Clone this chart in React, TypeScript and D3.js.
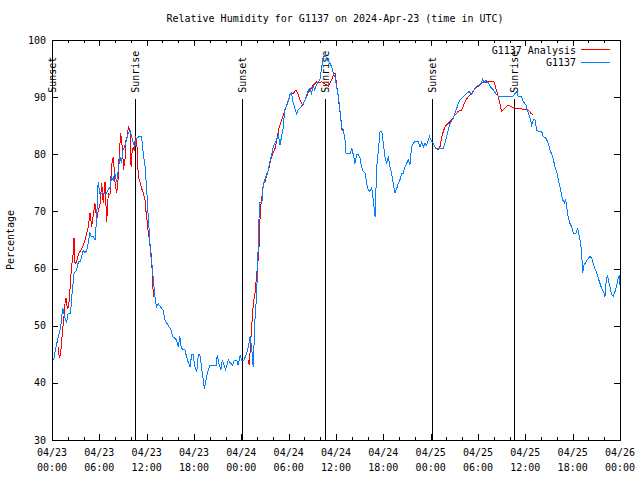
import React from "react";
import * as d3 from "d3";

const title = "Relative Humidity for G1137 on 2024-Apr-23 (time in UTC)";
const yLabel = "Percentage";
const startTime = Date.UTC(2024, 3, 23, 0, 0);
const endTime = Date.UTC(2024, 3, 26, 0, 0);
const yTicks = [30, 40, 50, 60, 70, 80, 90, 100];

// hours after 2024-04-23 00:00 UTC
const obsHours = [
  0.2, 0.5, 0.8, 1.1, 1.35, 1.65, 1.85, 2.05, 2.35, 2.5, 2.8, 3.1, 3.35, 3.55, 3.75, 3.95, 4.2, 4.4, 4.6, 4.8,
  5.0, 5.25, 5.45, 5.65, 5.85, 6.05, 6.45, 6.9, 7.35, 7.55, 7.75, 7.95, 8.2, 8.4, 8.6, 8.8, 9.0, 9.25, 9.45, 9.65,
  9.9, 10.1, 10.3, 10.5, 10.7, 11.15, 11.35, 11.57, 11.8, 12.0, 12.2, 12.35, 12.45, 12.65, 12.85, 13.05, 13.25, 13.45, 13.9, 14.1,
  14.3, 14.7, 15.1, 15.3, 15.8, 16.0, 16.2, 16.4, 16.85, 17.05, 17.25, 17.5, 17.7, 17.9, 18.1, 18.35, 18.55, 18.75, 18.95, 19.2,
  19.3, 19.6, 19.8, 20.0, 20.45, 20.8, 20.95, 21.15, 21.4, 21.6, 21.8, 22.0, 22.35, 22.65, 22.9, 23.1, 23.4, 23.6, 23.85, 24.05,
  24.35, 24.6, 24.9, 25.1, 25.3, 25.5, 25.73, 25.95, 26.15, 26.3, 26.6, 26.8, 27.1, 27.4, 27.6, 27.8, 28.05, 28.45, 28.7, 28.9,
  29.1, 29.3, 29.5, 29.75, 29.95, 30.15, 30.35, 30.55, 30.8, 31.0, 31.2, 31.4, 31.85, 32.3, 32.5, 32.7, 32.9, 33.1, 33.3, 33.5,
  33.75, 33.95, 34.15, 34.35, 34.6, 34.8, 35.23, 35.45, 35.65, 35.87, 36.08, 36.3, 36.5, 36.7, 36.92, 37.14, 37.27, 37.8, 38.0, 38.2,
  38.4, 38.6, 38.83, 39.04, 39.25, 39.46, 39.67, 39.89, 40.1, 40.31, 40.52, 40.73, 40.95, 41.16, 41.37, 41.58, 41.8, 42.0, 42.2, 42.43,
  42.63, 42.84, 43.05, 43.26, 43.48, 43.69, 43.9, 44.1, 44.32, 44.53, 44.74, 44.95, 45.16, 45.37, 45.58, 45.8, 46.0, 46.44, 46.65, 46.86,
  47.07, 47.28, 47.5, 47.7, 47.85, 48.13, 48.33, 48.68, 49.6, 49.8, 50.03, 50.23, 50.45, 50.87, 51.08, 51.3, 51.5, 51.72, 52.13, 52.57,
  52.9, 53.2, 53.4, 53.83, 54.25, 54.47, 54.6, 54.76, 55.01, 55.3, 55.52, 55.94, 56.37, 56.57, 57.0, 57.42, 58.47, 58.9, 59.1, 59.54,
  59.74, 60.08, 60.38, 60.6, 60.8, 61.0, 61.22, 61.44, 61.64, 62.07, 62.28, 62.62, 62.91, 63.13, 63.47, 63.76, 63.97, 64.18, 64.39, 64.61,
  64.73, 64.94, 65.12, 65.24, 65.45, 65.66, 65.88, 66.08, 66.42, 66.64, 66.8, 67.02, 67.14, 67.27, 67.44, 67.69, 67.98, 68.2, 68.41, 68.61,
  68.83, 69.05, 69.25, 69.46, 69.68, 69.97, 70.1, 70.22, 70.39, 70.52, 70.73, 70.95, 71.15, 71.37, 71.58, 71.78, 71.91, 72.0,
];
const obsRH = [
  44, 46.3, 48, 49.8, 53.1, 51.4, 50.5, 52.2, 52.2, 55, 59.2, 59.7, 61.2, 61.2, 62, 63.2, 62.7, 63.2, 64.5, 66.2,
  65.6, 65.6, 65, 68.5, 75.2, 73.2, 73.2, 73.2, 74.3, 76, 75.5, 76.7, 75.2, 77.2, 79.6, 78.5, 80.7, 81.6, 82.5, 83.7,
  84.2, 83.1, 81.9, 81.3, 82.8, 83.2, 83.1, 80.2, 77.8, 74, 69, 66.2, 63.2, 61, 58, 55, 53.3, 53.9, 53, 52.75,
  51, 50.1, 49.25, 48.1, 47.5, 46.3, 48.1, 46, 45.75, 44.6, 43.7, 42.8, 44.9, 44.9, 42.8, 42, 44.9, 44.9, 42.8, 40.2,
  39.0, 41.1, 42.25, 43, 43, 43, 44.9, 43.4, 42.25, 44, 43.1, 42.25, 44, 43.4, 43.1, 44, 44, 43.1, 44.9, 44,
  44, 44.9, 46.3, 48.1, 46.3, 42.8, 51, 55.7, 64.4, 71.5, 71.5, 74.9, 76, 77.2, 78.7, 79.6, 81.3, 82.5, 83.4, 81.6,
  83.1, 84.5, 87.75, 88.6, 89.2, 90.4, 90.7, 89.2, 88, 87.15, 87.75, 88, 88.9, 90.1, 91.25, 91.5, 90.7, 91.9, 91.25, 92.1,
  92.7, 93, 94.75, 96.8, 97.4, 96.8, 95.9, 95.3, 94.2, 93.6, 91.9, 90.1, 87.75, 84.8, 84.25, 82.5, 80.2, 80.2, 81, 79.9,
  78.4, 79.9, 79.9, 79.3, 77.8, 77, 76.7, 74.9, 73.75, 73.5, 74.3, 72, 69.1, 77.8, 80.75, 84, 84, 81.9, 79.6, 78.4,
  79.6, 77.8, 76.7, 74.9, 73.2, 74, 74.9, 75.5, 76.7, 76.7, 77.8, 78.4, 79, 78.1, 81.3, 81.9, 82.2, 82.2, 81.3, 82.2,
  81.3, 81.9, 81.6, 82.5, 83.1, 82.2, 81.9, 81, 81, 81.9, 83.1, 84.2, 85.4, 86.3, 87.2, 88, 88.9, 89.5, 90.1, 90.7,
  91, 90.4, 91, 91.9, 92.2, 92.7, 93.2, 92.5, 93, 92.5, 91.9, 91.25, 90.4, 90.1, 90.1, 90.2, 90.2, 91, 90.1, 90.1,
  89.2, 88.6, 87.15, 86.3, 85.1, 86, 86.1, 84.2, 84, 84, 83.1, 82.8, 81.9, 80.75, 79.6, 77.8, 77, 75.5, 74.3, 72.9,
  72, 71.5, 72, 70.8, 68.8, 67.9, 67.3, 66.2, 66.2, 67, 65.9, 64.4, 62.7, 59.2, 60.6, 61.2, 61.8, 62.1, 61.8, 60.9,
  60, 59.2, 58.3, 57.4, 56.5, 55.7, 55.1, 57.4, 58.9, 58, 56.8, 55.4, 55.1, 56, 57.1, 58.3, 58.9, 57.1,
];

// analysis: null marks a gap
const anaHours = [
  0.8, 0.93, 1.1, 1.23, 1.35, 1.52, 1.65, 1.78, 1.94, 2.07, 2.2, 2.37, 2.5, 2.7, 2.79, 2.92, 3.13, 3.33, 3.55, 3.76,
  3.97, 4.18, 4.4, 4.6, 4.82, 5.03, 5.24, 5.45, 5.67, 5.87, 6.08, 6.3, 6.5, 6.72, 6.93, 7.14, 7.35, 7.56, 7.77, 7.98,
  8.2, 8.4, 8.53, 8.71, 8.83, 8.96, 9.04, 9.25, 9.38, 9.55, 9.67, 9.89, 10.02, 10.14, 10.31, 10.43, 10.56, 10.74, 10.94, 11.15,
  11.37, 11.57, 11.79, 11.91, 12.0, 12.08, 12.42, 12.55, 12.76, 12.84, 18.0,
  24.88, 25.0, 25.31, 25.52, 25.73, 25.94, 26.15, 26.28, 26.3, 26.45, 26.67, 26.8, 27.0, 27.42, 27.85, 28.27, 28.49, 28.7, 28.91, 29.13,
  29.34, 29.54, 29.76, 29.96, 30.17, 30.6, 30.93, 31.22, 31.44, 31.78, 32.07, 32.28, 32.7, 33.13, 33.55, 33.76, 34.18, 34.6, 35.02, 35.23,
  35.45, 35.65, 35.87, 36.0, 36.16, 36.3, 36.42, 36.6, 36.72, 36.85, 42.0,
  48.84, 49.14, 49.4, 49.8, 50.2, 50.65, 51.08, 51.5, 51.93, 52.35, 52.77, 53.2, 53.62, 54.04, 54.47, 54.88, 55.3, 55.73, 56.02, 56.27,
  56.57, 56.78, 56.99, 57.2, 57.54, 57.84, 58.25, 58.69, 59.32, 59.96, 60.38, 60.68, 61.0,
];
const anaRH = [
  46.3, 44.3, 45.2, 47.5, 49.25, 51.6, 53.9, 54.8, 53, 53.3, 54.5, 58.3, 60.6, 62.7, 65.3, 60.9, 61.2, 62.4, 63, 63.5,
  64.1, 65, 66.2, 67.3, 69.7, 67.3, 69.4, 71.4, 68.5, 70.3, 71.1, 74.9, 71.4, 75.2, 68.2, 73.2, 72.9, 78.1, 79.6, 75.2,
  73.2, 76, 80.2, 83.7, 81.9, 81.3, 77.2, 79, 82.5, 83.1, 84.8, 84.2, 77.8, 80.2, 81.3, 80.5, 83.1, 82.5, 76, 75.2,
  74, 73.2, 72, 70, 69.7, 67.6, 64.4, 62.7, 58.3, 55, null,
  44, 43.1, 49.8, 53.9, 55.7, 58.9, 61.8, 64.7, 66.8, 70.8, 73.2, 74.9, 75.2, 77.2, 79.6, 81, 82.5, 84.2, 85.1, 86,
  86.9, 87.75, 88.6, 89.5, 90.4, 90.7, 91.25, 90.4, 89.5, 88.6, 89.5, 90.4, 91.25, 92.1, 92.7, 92.5, 92.7, 92.3, 91.9, 92.5,
  93, 93.9, 94.2, 93, 91.25, 90.1, 88.3, 86.6, 84.5, 84, null,
  80.75, 81, 83.1, 84.8, 85.4, 86, 86.9, 87.5, 87.75, 89.2, 90.1, 90.7, 91.5, 91.9, 92.5, 92.6, 92.7, 92.7, 92.7, 91.5,
  90.1, 88.9, 87.5, 87.75, 88.3, 88.6, 88.3, 88.1, 88, 87.8, 87.75, 87.2, 86.9,
];

const eventHours = [0.05, 10.5, 24.12, 34.62, 48.2, 58.55];
const eventLabels = ["Sunset", "Sunrise", "Sunset", "Sunrise", "Sunset", "Sunrise"];

const seriesNames = ["G1137 Analysis", "G1137"];
const seriesColors = ["#ff0000", "#0080ff"];

const W = 640, H = 480;
const L = 52, R = 620, T = 40, B = 440;
const FONT = "'DejaVu Sans Mono', 'Liberation Mono', monospace";

const hr = (h: number) => new Date(startTime + h * 3600000);

export default function App() {
  const x = d3.scaleUtc().domain([new Date(startTime), new Date(endTime)]).range([L, R]);
  const y = d3.scaleLinear().domain([30, 100]).range([B, T]);

  const obs = obsHours.map((h, i) => ({ t: hr(h), v: obsRH[i] as number | null }));
  const ana = anaHours.map((h, i) => ({ t: hr(h), v: anaRH[i] as number | null }));

  const line = d3
    .line<{ t: Date; v: number | null }>()
    .defined((d) => d.v != null)
    .x((d) => x(d.t))
    .y((d) => y(d.v as number));

  const majorTicks = x.ticks(d3.utcHour.every(6)!);
  const minorTicks = x.ticks(d3.utcHour.every(2)!).filter((d) => d.getUTCHours() % 6 !== 0);
  const fmtDate = d3.utcFormat("%m/%d");
  const fmtTime = d3.utcFormat("%H:%M");

  const textStyle = { fontFamily: FONT, fontSize: 10, fill: "#000" } as const;

  return (
    <svg width={W} height={H} style={{ position: "absolute", left: 0, top: 0, background: "#fff" }}>
      <rect x={0} y={0} width={W} height={H} fill="#fff" />
      <text x={335} y={22} textAnchor="middle" {...textStyle}>
        {title}
      </text>
      <text
        transform={`translate(14,${(T + B) / 2}) rotate(-90)`}
        textAnchor="middle"
        {...textStyle}
      >
        {yLabel}
      </text>

      <g shapeRendering="crispEdges" stroke="#000" strokeWidth={1}>
        {yTicks.map((v) => (
          <g key={"y" + v}>
            <line x1={L} x2={L + 6} y1={y(v) + 0.5} y2={y(v) + 0.5} />
            <line x1={R - 6} x2={R} y1={y(v) + 0.5} y2={y(v) + 0.5} />
          </g>
        ))}
        {majorTicks.map((d, i) => (
          <g key={"mx" + i}>
            <line x1={x(d) + 0.5} x2={x(d) + 0.5} y1={B} y2={B - 6} />
            <line x1={x(d) + 0.5} x2={x(d) + 0.5} y1={T} y2={T + 6} />
          </g>
        ))}
        {minorTicks.map((d, i) => (
          <g key={"nx" + i}>
            <line x1={x(d) + 0.5} x2={x(d) + 0.5} y1={B} y2={B - 3} />
            <line x1={x(d) + 0.5} x2={x(d) + 0.5} y1={T} y2={T + 3} />
          </g>
        ))}
        {eventHours.map((h, i) => (
          <line key={"ev" + i} x1={x(hr(h)) + 0.5} x2={x(hr(h)) + 0.5} y1={y(89.7)} y2={B} />
        ))}
      </g>

      {yTicks.map((v) => (
        <text key={"yl" + v} x={L - 6} y={y(v)} dy="0.35em" textAnchor="end" {...textStyle}>
          {v}
        </text>
      ))}
      {majorTicks.map((d, i) => (
        <g key={"xl" + i}>
          <text x={x(d)} y={456} textAnchor="middle" {...textStyle}>
            {fmtDate(d)}
          </text>
          <text x={x(d)} y={471} textAnchor="middle" {...textStyle}>
            {fmtTime(d)}
          </text>
        </g>
      ))}

      {eventHours.map((h, i) => (
        <text
          key={"evl" + i}
          transform={`translate(${x(hr(h)) + 0.5},${y(89.7) - 6}) rotate(-90)`}
          textAnchor="start"
          dy="0.35em"
          {...textStyle}
        >
          {eventLabels[i]}
        </text>
      ))}

      <clipPath id="plotclip">
        <rect x={L} y={T} width={R - L} height={B - T} />
      </clipPath>
      <g clipPath="url(#plotclip)" fill="none" strokeWidth={1} shapeRendering="crispEdges">
        <path d={line(ana) || ""} stroke={seriesColors[0]} />
        <path d={line(obs) || ""} stroke={seriesColors[1]} />
      </g>

      {seriesNames.map((n, i) => (
        <g key={"lg" + i}>
          <text x={576} y={50 + i * 12.5} dy="0.35em" textAnchor="end" {...textStyle}>
            {n}
          </text>
          <line
            x1={581}
            x2={610}
            y1={49.5 + i * 13}
            y2={49.5 + i * 13}
            stroke={seriesColors[i]}
            strokeWidth={1}
            shapeRendering="crispEdges"
          />
        </g>
      ))}

      <rect
        x={L + 0.5}
        y={T + 0.5}
        width={R - L}
        height={B - T}
        fill="none"
        stroke="#000"
        strokeWidth={1}
        shapeRendering="crispEdges"
      />
    </svg>
  );
}
